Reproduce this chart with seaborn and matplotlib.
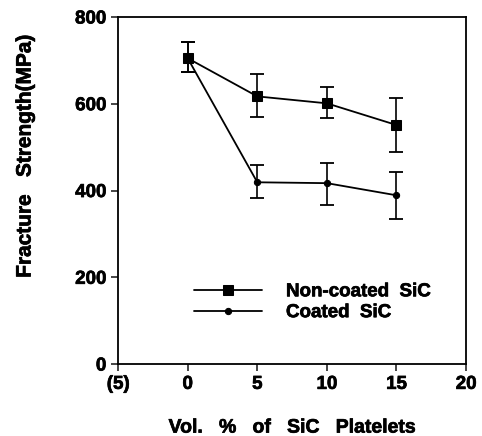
import numpy as np
import pandas as pd
import matplotlib
matplotlib.use('Agg')
import matplotlib.pyplot as plt
import matplotlib.patheffects as pe
import seaborn as sns

# Dữ liệu
vol = [0, 5, 10, 15]
noncoated = [705, 617, 601, 551]
noncoated_hi = [742, 668, 638, 613]
noncoated_lo = [673, 569, 567, 488]
coated = [705, 419, 417, 389]
coated_hi = [742, 459, 463, 442]
coated_lo = [673, 382, 366, 334]

xticks = [-5, 0, 5, 10, 15, 20]
xticklabels = ['(5)', '0', '5', '10', '15', '20']
yticks = [0, 200, 400, 600, 800]

sns.set_theme(style='ticks')
plt.rcParams['font.family'] = ['Liberation Sans', 'DejaVu Sans']
plt.rcParams['font.weight'] = 'bold'

df = pd.DataFrame({
    'vol': vol * 2,
    'strength': noncoated + coated,
    'series': ['Non-coated  SiC'] * 4 + ['Coated  SiC'] * 4,
})

fig = plt.figure(figsize=(4.82, 4.36), dpi=100)
ax = fig.add_axes([0.245, 0.165, 0.722, 0.796])

sns.lineplot(data=df, x='vol', y='strength', hue='series', style='series',
             markers={'Non-coated  SiC': 's', 'Coated  SiC': 'o'},
             dashes=False, palette=['black', 'black'],
             markersize=6.5, linewidth=1.3, markeredgecolor='black', ax=ax)
# marker coated nhỏ hơn, vẽ dưới đường non-coated
for line in ax.get_lines():
    if line.get_marker() == 'o':
        line.set_markersize(4.5)
        line.set_zorder(1.5)
    elif line.get_marker() == 's':
        line.set_zorder(3)

# Thanh sai số
for y, hi, lo in [(noncoated, noncoated_hi, noncoated_lo), (coated, coated_hi, coated_lo)]:
    y = np.array(y)
    err = [y - np.array(lo), np.array(hi) - y]
    ax.errorbar(vol, y, yerr=err, fmt='none', ecolor='black',
                elinewidth=1.2, capsize=5, capthick=1.3)

ax.set_xlim(-5, 20)
ax.set_ylim(0, 800)
ax.set_xticks(xticks)
ax.set_xticklabels(xticklabels)
ax.set_yticks(yticks)
ax.tick_params(direction='out', length=5, width=1.2, labelsize=13.5)
for s in ax.spines.values():
    s.set_linewidth(1.3)
    s.set_color('black')

ax.set_xlabel('Vol.   %   of   SiC   Platelets', fontsize=14, fontweight='bold')
ax.xaxis.set_label_coords(0.5, -0.16)
ax.set_ylabel('Fracture   Strength(MPa)', fontsize=15, fontweight='bold')
ax.yaxis.set_label_coords(-0.24, 0.6)

leg = ax.legend(loc='lower left', bbox_to_anchor=(0.17, 0.075), frameon=False,
                fontsize=13.5, handlelength=3.6, handletextpad=1.3,
                labelspacing=0.2)
for t in leg.get_texts():
    t.set_fontweight('bold')
for h in leg.legend_handles:
    h.set_markeredgecolor('black')

# làm chữ đậm hơn giống bản scan
stroke = [pe.withStroke(linewidth=0.5, foreground='black')]
texts = ax.get_xticklabels() + ax.get_yticklabels() + leg.get_texts()
texts += [ax.xaxis.label, ax.yaxis.label]
for t in texts:
    t.set_color('black')
    t.set_path_effects(stroke)

fig.savefig('out.png', dpi=100)
